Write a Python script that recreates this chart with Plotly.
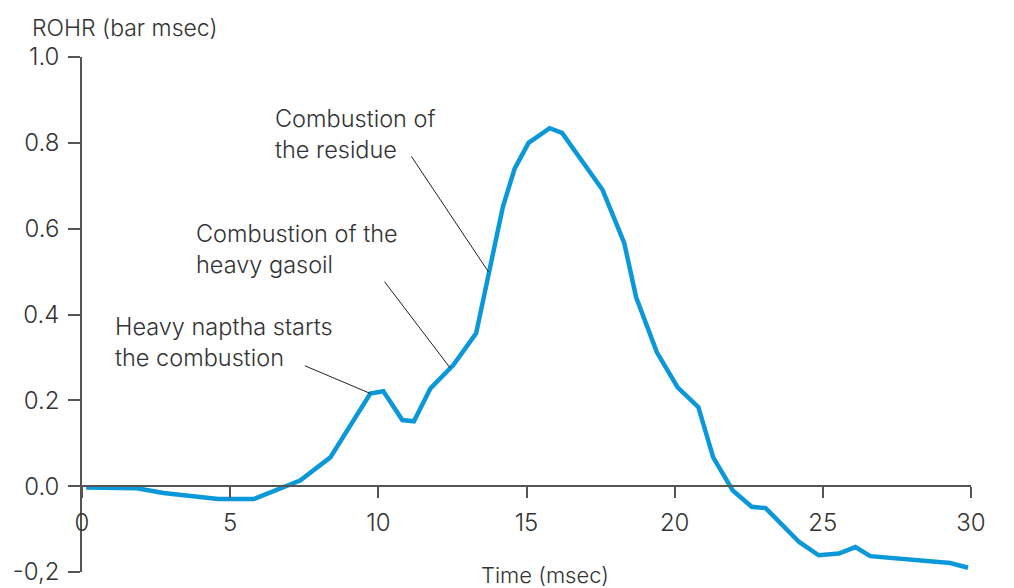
import plotly.graph_objects as go

# Rate of heat release trace (time in msec, ROHR in bar/msec)
time_ms = [0.14, 1.85, 2.75, 4.6, 5.8, 7.36, 8.38, 9.73, 10.17, 10.81, 11.2,
           11.76, 12.53, 13.3, 14.2, 14.6, 15.07, 15.78, 16.2, 17.57, 18.3,
           18.7, 19.4, 20.1, 20.8, 21.3, 21.96, 22.6, 23.07, 24.2, 24.86,
           25.54, 26.1, 26.6, 29.3, 29.9]
rohr = [-0.003, -0.005, -0.016, -0.03, -0.03, 0.013, 0.067, 0.216, 0.221,
        0.154, 0.151, 0.228, 0.282, 0.356, 0.65, 0.74, 0.80, 0.834, 0.823,
        0.69, 0.566, 0.44, 0.312, 0.23, 0.184, 0.067, -0.01, -0.048, -0.051,
        -0.13, -0.161, -0.157, -0.142, -0.163, -0.179, -0.19]

x_ticks = [0, 5, 10, 15, 20, 25, 30]
y_ticks = [-0.2, 0.0, 0.2, 0.4, 0.6, 0.8, 1.0]
y_tick_text = ["-0,2", "0.0", "0.2", "0.4", "0.6", "0.8", "1.0"]

# Callout labels: text, anchor (x, y), pointer start and end
labels = ["Heavy naptha starts<br>the combustion",
          "Combustion of the<br>heavy gasoil",
          "Combustion of<br>the residue"]
label_x = [1.04, 3.78, 6.44]
label_y = [0.336, 0.553, 0.82]
pointer_x0 = [7.47, 10.17, 11.08]
pointer_y0 = [0.282, 0.48, 0.772]
pointer_x1 = [9.73, 12.43, 13.72]
pointer_y1 = [0.216, 0.275, 0.499]

FONT = "Inter"
TEXT = "#333333"
AXIS = "#555555"

fig = go.Figure()
fig.add_trace(go.Scatter(x=time_ms, y=rohr, mode="lines",
                         line=dict(color="#0b98d8", width=4.5),
                         hoverinfo="skip", showlegend=False))

annotations = []
for t, lx, ly, x0, y0, x1, y1 in zip(labels, label_x, label_y,
                                     pointer_x0, pointer_y0,
                                     pointer_x1, pointer_y1):
    annotations.append(dict(x=lx, y=ly, xref="x", yref="y", text=t,
                            showarrow=False, xanchor="left", yanchor="middle",
                            align="left",
                            font=dict(family=FONT, size=23.5, color=TEXT,
                                      weight=300)))
    annotations.append(dict(x=x1, y=y1, ax=x0, ay=y0, xref="x", yref="y",
                            axref="x", ayref="y", text="", showarrow=True,
                            arrowhead=0, arrowwidth=1, arrowcolor="#222222",
                            standoff=0, startstandoff=0))

annotations.append(dict(x=-0.058, y=1.056, xref="paper", yref="paper",
                        text="ROHR (bar msec)", showarrow=False,
                        xanchor="left", yanchor="middle",
                        font=dict(family=FONT, size=23, color=TEXT, weight=300)))
annotations.append(dict(x=0.521, y=-0.006, xref="paper", yref="paper",
                        text="Time (msec)", showarrow=False,
                        xanchor="center", yanchor="middle",
                        font=dict(family=FONT, size=22, color=TEXT, weight=300)))

tick_font = dict(family=FONT, size=24, color=TEXT, weight=300)

fig.update_layout(
    width=1014, height=588,
    margin=dict(l=82, r=43, t=57, b=16),
    paper_bgcolor="white", plot_bgcolor="white",
    showlegend=False,
    annotations=annotations,
    xaxis=dict(range=[0, 30], tickvals=x_ticks, showgrid=False,
               zeroline=False, showline=True, linecolor=AXIS, linewidth=1.5,
               ticks="outside", ticklen=11, tickwidth=1.5, tickcolor=AXIS,
               tickfont=tick_font, ticklabelstandoff=4, automargin=False,
               anchor="free", position=1/6),
    yaxis=dict(range=[-0.2, 1.0], tickvals=y_ticks, ticktext=y_tick_text,
               showgrid=False, zeroline=False, showline=True,
               linecolor=AXIS, linewidth=1.5, ticks="outside", ticklen=12,
               tickwidth=1.5, tickcolor=AXIS, tickfont=tick_font,
               ticklabelstandoff=4, automargin=False),
    yaxis2=dict(range=[-0.2, 1.0], tickvals=y_ticks, overlaying="y",
                side="left", showgrid=False, zeroline=False, showline=False,
                ticks="inside", ticklen=10, tickwidth=1.5, tickcolor=AXIS,
                showticklabels=False, automargin=False),
)

fig.write_html("out.html")
